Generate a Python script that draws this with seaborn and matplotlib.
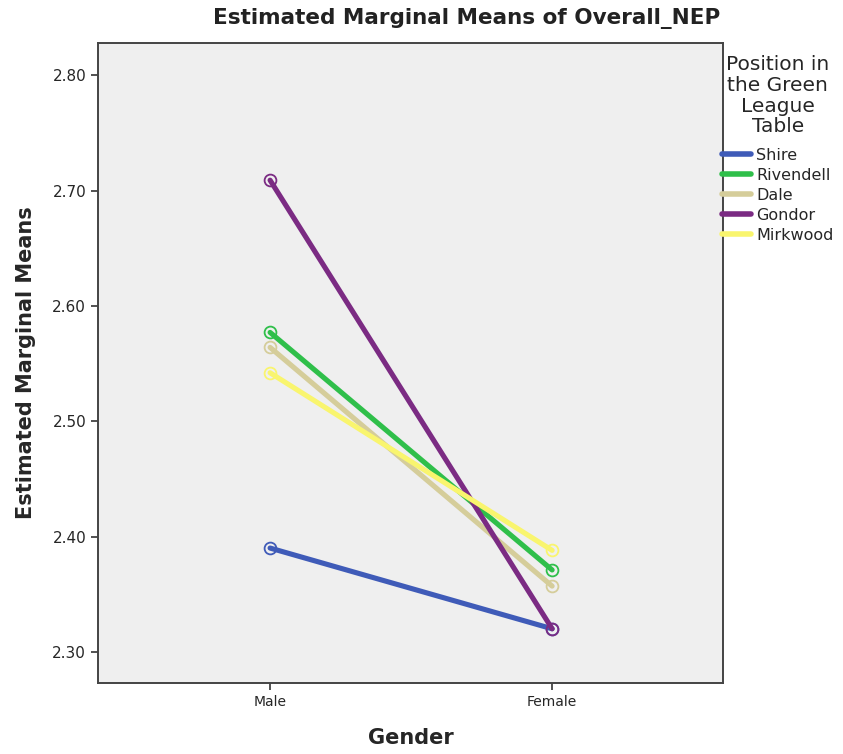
import matplotlib
matplotlib.use("Agg")
import matplotlib.pyplot as plt
import seaborn as sns
import pandas as pd
from matplotlib.lines import Line2D

genders = ["Male", "Female"]
positions = ["Shire", "Rivendell", "Dale", "Gondor", "Mirkwood"]
male_means = [2.390, 2.577, 2.564, 2.709, 2.542]
female_means = [2.320, 2.371, 2.357, 2.320, 2.388]
colors = ["#3F5BB8", "#2FBF4A", "#D5CD9A", "#7B2B83", "#F9F56E"]
yticks = [2.30, 2.40, 2.50, 2.60, 2.70, 2.80]

rows = []
for p, m, f in zip(positions, male_means, female_means):
    rows.append({"Gender": "Male", "Position": p, "Mean": m})
    rows.append({"Gender": "Female", "Position": p, "Mean": f})
df = pd.DataFrame(rows)

sns.set_style("white")
plt.rcParams["font.family"] = ["DejaVu Sans"]

fig = plt.figure(figsize=(8.43, 7.54), dpi=100)
ax = fig.add_axes([0.1163, 0.0942, 0.7414, 0.8488])
ax.set_facecolor("#EFEFEF")

sns.lineplot(data=df, x="Gender", y="Mean", hue="Position", hue_order=positions,
             palette=colors, linewidth=3.7, marker="o", markersize=8.5,
             markerfacecolor="none", markeredgewidth=1.3, ax=ax, sort=False,
             legend=False)
for line, c in zip(ax.lines, colors):
    line.set_markeredgecolor(c)

ax.set_xlim(-0.61, 1.606)
ax.set_ylim(2.273, 2.828)
ax.set_yticks(yticks)
ax.set_yticklabels([f"{v:.2f}" for v in yticks], fontsize=11)
ax.set_xticks([0, 1])
ax.set_xticklabels(genders, fontsize=10)
ax.tick_params(axis="both", direction="out", length=5, width=1.2, color="#333333", left=True, bottom=True)
for s in ax.spines.values():
    s.set_color("#444444")
    s.set_linewidth(1.4)

ax.set_xlabel("Gender", fontsize=15, fontweight="bold", labelpad=14)
ax.set_ylabel("Estimated Marginal Means", fontsize=15, fontweight="bold", labelpad=12)
fig.text(0.553, 0.975, "Estimated Marginal Means of Overall_NEP", fontsize=15.5,
         fontweight="bold", ha="center", va="center", color="#222222")

handles = [Line2D([0], [0], color=c, lw=4) for c in colors]
leg = fig.legend(handles, positions, loc="upper left", bbox_to_anchor=(0.857, 0.927),
                 title="Position in\nthe Green\nLeague\nTable", fontsize=11.5,
                 title_fontsize=14.5, frameon=False, handlelength=1.8,
                 handletextpad=0.3, labelspacing=0.32, borderaxespad=0,
                 borderpad=0.0)
leg.get_title().set_multialignment("center")
leg.get_title().set_linespacing(1.12)
leg._legend_box.sep = 8

fig.savefig("out.png", dpi=100)
